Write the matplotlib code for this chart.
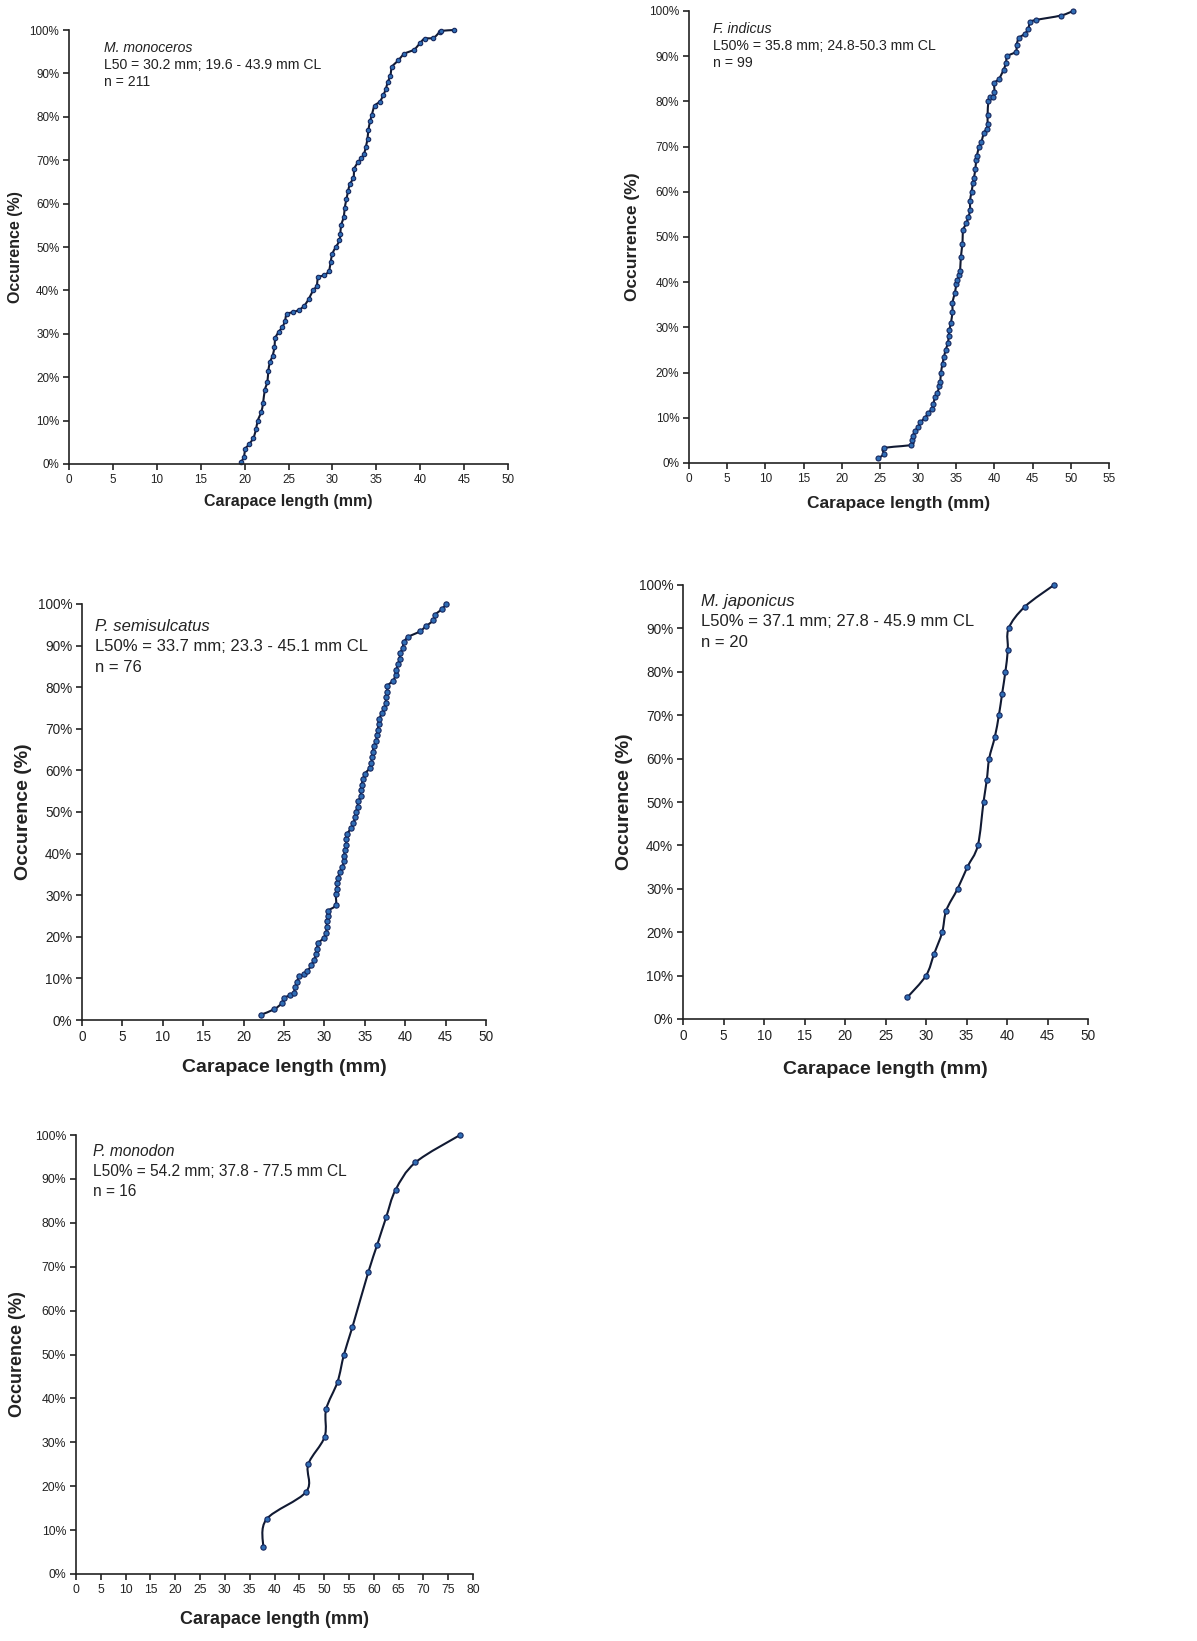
import numpy as np
import matplotlib.pyplot as plt
from matplotlib.path import Path
from matplotlib.patches import PathPatch
from matplotlib.ticker import MultipleLocator, PercentFormatter

plt.rcParams['font.family'] = ['Liberation Sans', 'DejaVu Sans']

# M. monoceros (n = 211)
mono_cl = [19.6, 19.9, 20.1, 20.5, 21.0, 21.3, 21.5, 21.9, 22.1, 22.3, 22.6, 22.7,
           22.9, 23.2, 23.4, 23.5, 23.9, 24.3, 24.6, 24.8, 25.5, 26.2, 26.8, 27.3,
           27.8, 28.2, 28.4, 29.1, 29.6, 29.8, 30.0, 30.4, 30.8, 30.9, 31.0, 31.3,
           31.4, 31.6, 31.8, 32.0, 32.4, 32.5, 32.9, 33.3, 33.6, 33.8, 34.0, 34.1,
           34.3, 34.5, 34.8, 35.4, 35.8, 36.1, 36.3, 36.6, 36.8, 37.5, 38.2, 39.3,
           40.0, 40.5, 41.5, 42.2, 42.4, 43.9]
mono_pct = [0.5, 1.5, 3.5, 4.5, 6, 8, 10, 12, 14, 17, 19, 21.5,
            23.5, 25, 27, 29, 30.5, 31.5, 33, 34.5, 35, 35.5, 36.5, 38,
            40, 41, 43, 43.5, 44.5, 46.5, 48.5, 50, 51.5, 53, 55, 57,
            59, 61, 63, 64.5, 66, 68, 69.5, 70.5, 71.5, 73, 75, 77,
            79, 80.5, 82.5, 83.5, 85, 86.5, 88, 89.5, 91.5, 93, 94.5, 95.5,
            97, 98, 98.2, 99.5, 99.8, 100]

# F. indicus (n = 99)
ind_cl = [24.8, 25.5, 25.6, 29.1, 29.2, 29.3, 29.6, 30.0, 30.3, 30.9, 31.3, 31.8,
          32.0, 32.2, 32.5, 32.8, 32.9, 33.0, 33.2, 33.4, 33.6, 33.9, 34.0, 34.1,
          34.3, 34.5, 34.5, 34.8, 35.0, 35.1, 35.4, 35.5, 35.6, 35.8, 35.9, 36.3,
          36.6, 36.8, 36.8, 37.0, 37.2, 37.3, 37.5, 37.6, 37.7, 38.0, 38.3, 38.6,
          39.0, 39.1, 39.1, 39.2, 39.4, 39.8, 40.0, 40.0, 40.6, 41.2, 41.5, 41.7,
          42.8, 42.9, 43.2, 44.0, 44.4, 44.7, 45.4, 48.7, 50.3]
ind_pct = [1, 2, 3.3, 4, 5, 6, 7, 8, 9, 10, 11, 12,
           13, 14.5, 15.5, 17, 18, 20, 22, 23.5, 25, 26.5, 28, 29.5,
           31, 33.5, 35.5, 37.5, 39.5, 40.5, 41.5, 42.5, 45.5, 48.5, 51.5, 53,
           54.5, 56, 58, 60, 62, 63, 65, 67, 68, 70, 71, 73,
           74, 75, 77, 80, 81, 81, 82, 84, 85, 87, 88.5, 90,
           91, 92.5, 94, 95, 96, 97.5, 98, 99, 100]

# P. semisulcatus (n = 76)
semi_cl = [22.2, 23.8, 24.7, 25.0, 25.8, 26.2, 26.4, 26.6, 26.9, 27.5, 27.9, 28.4,
           28.7, 29.0, 29.1, 29.2, 29.9, 30.2, 30.3, 30.3, 30.4, 30.5, 31.4, 31.4,
           31.5, 31.6, 31.7, 31.9, 32.2, 32.4, 32.4, 32.6, 32.7, 32.7, 32.8, 33.3,
           33.6, 33.8, 33.9, 34.1, 34.2, 34.5, 34.5, 34.6, 34.8, 35.0, 35.6, 35.8,
           35.9, 36.0, 36.1, 36.4, 36.5, 36.6, 36.7, 36.8, 37.1, 37.4, 37.6, 37.6,
           37.8, 37.8, 38.5, 38.8, 38.9, 39.1, 39.3, 39.4, 39.7, 39.8, 40.4, 41.8,
           42.6, 43.5, 43.7, 44.5, 45.1]
semi_pct = [1.3, 2.6, 4.0, 5.3, 6.0, 6.6, 8.0, 9.2, 10.5, 11.0, 11.8, 13.2,
            14.5, 15.8, 17.1, 18.4, 19.7, 21.0, 22.4, 23.7, 25.0, 26.3, 27.6, 30.3,
            31.6, 32.9, 34.2, 35.5, 36.8, 38.2, 39.5, 40.8, 42.1, 43.4, 44.7, 46.1,
            47.4, 48.7, 50.0, 51.3, 52.6, 53.9, 55.3, 56.6, 57.9, 59.2, 60.5, 61.8,
            63.2, 64.5, 65.8, 67.1, 68.4, 69.7, 71.1, 72.4, 73.7, 75.0, 76.3, 77.6,
            78.9, 80.3, 81.6, 82.9, 84.2, 85.5, 86.8, 88.2, 89.5, 90.8, 92.1, 93.4,
            94.7, 96.1, 97.4, 98.7, 100]

# M. japonicus (n = 20)
jap_cl = [27.7, 30.0, 31.0, 32.0, 32.5, 33.9, 35.1, 36.4, 37.1, 37.5, 37.8, 38.5,
          39.0, 39.4, 39.8, 40.1, 40.2, 42.2, 45.8]
jap_pct = [5, 10, 15, 20, 25, 30, 35, 40, 50, 55, 60, 65,
           70, 75, 80, 85, 90, 95, 100]

# P. monodon (n = 16)
mon_cl = [37.7, 38.4, 46.4, 46.8, 50.1, 50.4, 52.7, 54.0, 55.7, 58.9, 60.7, 62.5,
          64.4, 68.4, 77.4]
mon_pct = [6.25, 12.5, 18.75, 25, 31.25, 37.5, 43.75, 50, 56.25, 68.75, 75, 81.25,
           87.5, 93.75, 100]

W, H = 1197, 1641
fig = plt.figure(figsize=(W / 100, H / 100), dpi=100)

LINE_C = '#111a33'
FACE_C = '#2f6db5'
EDGE_C = '#15275e'


def smooth_path(ax, xs, ys):
    # Excel-style smoothed line: Catmull-Rom turned into cubic Beziers, in pixel space
    pts = ax.transData.transform(np.column_stack([xs, ys]))
    n = len(pts)
    verts = [pts[0]]
    codes = [Path.MOVETO]
    for i in range(n - 1):
        p0 = pts[i - 1] if i > 0 else pts[i]
        p1 = pts[i]
        p2 = pts[i + 1]
        p3 = pts[i + 2] if i + 2 < n else pts[i + 1]
        verts += [p1 + (p2 - p0) / 6, p2 - (p3 - p1) / 6, p2]
        codes += [Path.CURVE4] * 3
    verts = ax.transData.inverted().transform(np.array(verts))
    return Path(verts, codes)


def panel(box, xs, ys, xmax, species, stats, n_txt, ylabel, fs_tick, fs_lab, fs_txt,
          ms, txt_xy, line_gap, ylab_x, xlab_y):
    l, t, r, b = box
    ax = fig.add_axes([l / W, 1 - b / H, (r - l) / W, (b - t) / H])
    ax.set_xlim(0, xmax)
    ax.set_ylim(0, 100)
    for s in ['top', 'right']:
        ax.spines[s].set_visible(False)
    for s in ['left', 'bottom']:
        ax.spines[s].set_linewidth(1.2)
        ax.spines[s].set_color('#222222')
    ax.xaxis.set_major_locator(MultipleLocator(5))
    ax.yaxis.set_major_locator(MultipleLocator(10))
    ax.yaxis.set_major_formatter(PercentFormatter(decimals=0))
    ax.tick_params(direction='out', length=4, width=1.2, color='#222222',
                   labelsize=fs_tick, labelcolor='#222222', pad=3)
    ax.patch.set_alpha(0)

    ax.add_patch(PathPatch(smooth_path(ax, xs, ys), fill=False, ec=LINE_C,
                           lw=1.5, clip_on=False))
    ax.plot(xs, ys, 'o', ls='none', ms=ms, mfc=FACE_C, mec=EDGE_C, mew=0.8,
            clip_on=False)

    ax.set_xlabel('Carapace length (mm)', fontsize=fs_lab, fontweight='bold',
                  color='#222222')
    ax.set_ylabel(ylabel, fontsize=fs_lab, fontweight='bold', color='#222222')
    ax.xaxis.set_label_coords(0.5, xlab_y)
    ax.yaxis.set_label_coords(ylab_x, 0.5)

    tx, ty = txt_xy
    gap = line_gap / (b - t)
    ax.text(tx, ty, species, transform=ax.transAxes, fontsize=fs_txt,
            style='italic', va='top', color='#222222')
    ax.text(tx, ty - gap, stats, transform=ax.transAxes, fontsize=fs_txt,
            va='top', color='#222222')
    ax.text(tx, ty - 2 * gap, n_txt, transform=ax.transAxes, fontsize=fs_txt,
            va='top', color='#222222')
    return ax


panel((69, 30, 508, 464), mono_cl, mono_pct, 50, 'M. monoceros',
      'L50 = 30.2 mm; 19.6 - 43.9 mm CL', 'n = 211', 'Occurence (%)',
      8.4, 11.5, 10.1, 3.2, (0.08, 0.975), 17, -0.105, -0.07)

panel((689, 11, 1109, 463), ind_cl, ind_pct, 55, 'F. indicus',
      'L50% = 35.8 mm; 24.8-50.3 mm CL', 'n = 99', 'Occurrence (%)',
      8.5, 12.5, 10.2, 3.6, (0.057, 0.975), 17, -0.117, -0.072)

panel((82, 604, 486, 1020), semi_cl, semi_pct, 50, 'P. semisulcatus',
      'L50% = 33.7 mm; 23.3 - 45.1 mm CL', 'n = 76', 'Occurence (%)',
      9.8, 14, 12, 3.8, (0.032, 0.965), 20.5, -0.124, -0.094)

panel((683, 585, 1088, 1019), jap_cl, jap_pct, 50, 'M. japonicus',
      'L50% = 37.1 mm; 27.8 - 45.9 mm CL', 'n = 20', 'Occurence (%)',
      9.8, 14, 12, 3.8, (0.044, 0.98), 20.5, -0.123, -0.097)

panel((76, 1135, 473, 1574), mon_cl, mon_pct, 80, 'P. monodon',
      'L50% = 54.2 mm; 37.8 - 77.5 mm CL', 'n = 16', 'Occurence (%)',
      8.8, 13, 11.2, 3.8, (0.043, 0.98), 20, -0.126, -0.085)

fig.savefig('out.png', dpi=100, facecolor='white')
